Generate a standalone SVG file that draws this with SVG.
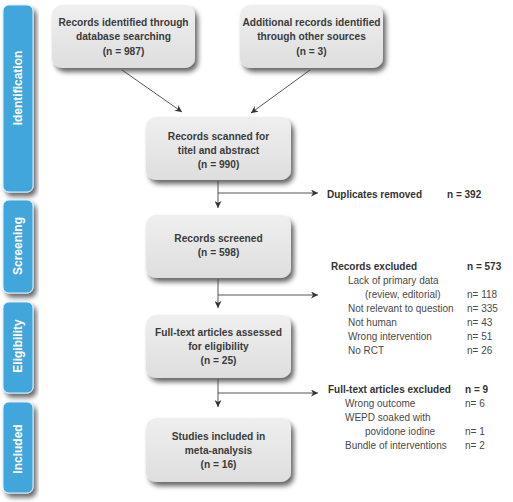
<svg xmlns="http://www.w3.org/2000/svg" width="513" height="502" viewBox="0 0 513 502">
<defs>
<linearGradient id="gbox" x1="0" y1="0" x2="0" y2="1">
<stop offset="0" stop-color="#efefef"/>
<stop offset="1" stop-color="#dedede"/>
</linearGradient>
<filter id="sh" x="-10%" y="-10%" width="130%" height="140%">
<feDropShadow dx="3" dy="4" stdDeviation="2.5" flood-color="#000" flood-opacity="0.6"/>
</filter>
<marker id="ah" viewBox="0 0 10 10" refX="10" refY="5" markerWidth="8" markerHeight="7" markerUnits="userSpaceOnUse" orient="auto">
<path d="M0,0 L10,5 L0,10 L3,5 Z" fill="#333"/>
</marker>
<style>
.box{fill:url(#gbox);filter:url(#sh);}
.side{fill:#3fa6dc;stroke:#d9eef9;stroke-width:1;filter:url(#sh);}
.bt{font-family:"Liberation Sans",Arial,sans-serif;font-size:10.2px;font-weight:bold;fill:#3b3b3b;text-anchor:middle;}
.st{font-family:"Liberation Sans",Arial,sans-serif;font-size:12px;font-weight:bold;fill:#ffffff;text-anchor:middle;}
.rb{font-family:"Liberation Sans",Arial,sans-serif;font-size:10px;font-weight:bold;fill:#333;}
.rt{font-family:"Liberation Sans",Arial,sans-serif;font-size:10px;fill:#4a4a4a;}
.ln{fill:none;stroke:#444;stroke-width:0.9;}
</style>
</defs>
<rect width="513" height="502" fill="#ffffff"/>

<g id="phase-identification">
<rect class="side" x="3" y="5" width="30" height="187" rx="6"/>
<text class="st" transform="translate(22,88) rotate(-90)">Identification</text>
</g>
<g id="phase-screening">
<rect class="side" x="3" y="200" width="30" height="93" rx="6"/>
<text class="st" transform="translate(22,246) rotate(-90)">Screening</text>
</g>
<g id="phase-eligibility">
<rect class="side" x="3" y="302" width="30" height="91" rx="6"/>
<text class="st" transform="translate(22,346) rotate(-90)">Eligibility</text>
</g>
<g id="phase-included">
<rect class="side" x="3" y="402" width="30" height="91" rx="6"/>
<text class="st" transform="translate(22,449) rotate(-90)">Included</text>
</g>

<g id="box-database">
<rect class="box" x="52" y="5" width="143" height="63" rx="10"/>
<text class="bt" x="123.5" y="26">Records identified through</text>
<text class="bt" x="123.5" y="40">database searching</text>
<text class="bt" x="123.5" y="55">(n = 987)</text>
</g>
<g id="box-other">
<rect class="box" x="240" y="5" width="143" height="63" rx="10"/>
<text class="bt" x="311.5" y="26">Additional records identified</text>
<text class="bt" x="311.5" y="40">through other sources</text>
<text class="bt" x="311.5" y="55">(n = 3)</text>
</g>
<g id="box-scanned">
<rect class="box" x="146" y="117" width="145" height="63" rx="10"/>
<text class="bt" x="218.5" y="140">Records scanned for</text>
<text class="bt" x="218.5" y="154">titel and abstract</text>
<text class="bt" x="218.5" y="168">(n = 990)</text>
</g>
<g id="box-screened">
<rect class="box" x="146" y="215" width="145" height="63" rx="10"/>
<text class="bt" x="218.5" y="242">Records screened</text>
<text class="bt" x="218.5" y="256">(n = 598)</text>
</g>
<g id="box-fulltext">
<rect class="box" x="146" y="315" width="145" height="63" rx="10"/>
<text class="bt" x="218.5" y="336">Full-text articles assessed</text>
<text class="bt" x="218.5" y="350">for eligibility</text>
<text class="bt" x="218.5" y="364">(n = 25)</text>
</g>
<g id="box-included">
<rect class="box" x="146" y="418" width="145" height="64" rx="10"/>
<text class="bt" x="218.5" y="440">Studies included in</text>
<text class="bt" x="218.5" y="454">meta-analysis</text>
<text class="bt" x="218.5" y="468">(n =  16)</text>
</g>

<g id="note-duplicates">
<text class="rb" x="327" y="198">Duplicates removed</text>
<text class="rb" x="447" y="198">n = 392</text>
</g>
<g id="note-records-excluded">
<text class="rb" x="331" y="270">Records excluded</text>
<text class="rb" x="467" y="270">n = 573</text>
<text class="rt" x="348" y="284">Lack of primary data</text>
<text class="rt" x="365" y="298">(review, editorial)</text>
<text class="rt" x="467" y="298">n= 118</text>
<text class="rt" x="348" y="312">Not relevant to question</text>
<text class="rt" x="467" y="312">n= 335</text>
<text class="rt" x="348" y="326">Not human</text>
<text class="rt" x="467" y="326">n= 43</text>
<text class="rt" x="348" y="340">Wrong intervention</text>
<text class="rt" x="467" y="340">n= 51</text>
<text class="rt" x="348" y="354">No RCT</text>
<text class="rt" x="467" y="354">n= 26</text>
</g>
<g id="note-fulltext-excluded">
<text class="rb" x="328" y="393">Full-text articles excluded</text>
<text class="rb" x="465" y="393">n = 9</text>
<text class="rt" x="345" y="407">Wrong outcome</text>
<text class="rt" x="465" y="407">n= 6</text>
<text class="rt" x="345" y="421">WEPD soaked with</text>
<text class="rt" x="365" y="435">povidone iodine</text>
<text class="rt" x="465" y="435">n= 1</text>
<text class="rt" x="345" y="449">Bundle of interventions</text>
<text class="rt" x="465" y="449">n= 2</text>
</g>

<g id="connectors">
<line class="ln" x1="122" y1="70" x2="182" y2="112" marker-end="url(#ah)"/>
<line class="ln" x1="310" y1="70" x2="251" y2="113" marker-end="url(#ah)"/>
<line class="ln" x1="218" y1="181" x2="218" y2="208" marker-end="url(#ah)"/>
<line class="ln" x1="218" y1="193" x2="318" y2="193" marker-end="url(#ah)"/>
<line class="ln" x1="218" y1="279" x2="218" y2="308" marker-end="url(#ah)"/>
<line class="ln" x1="218" y1="295" x2="318" y2="295" marker-end="url(#ah)"/>
<line class="ln" x1="218" y1="379" x2="218" y2="407" marker-end="url(#ah)"/>
<line class="ln" x1="218" y1="393" x2="318" y2="393" marker-end="url(#ah)"/>
</g>
</svg>
